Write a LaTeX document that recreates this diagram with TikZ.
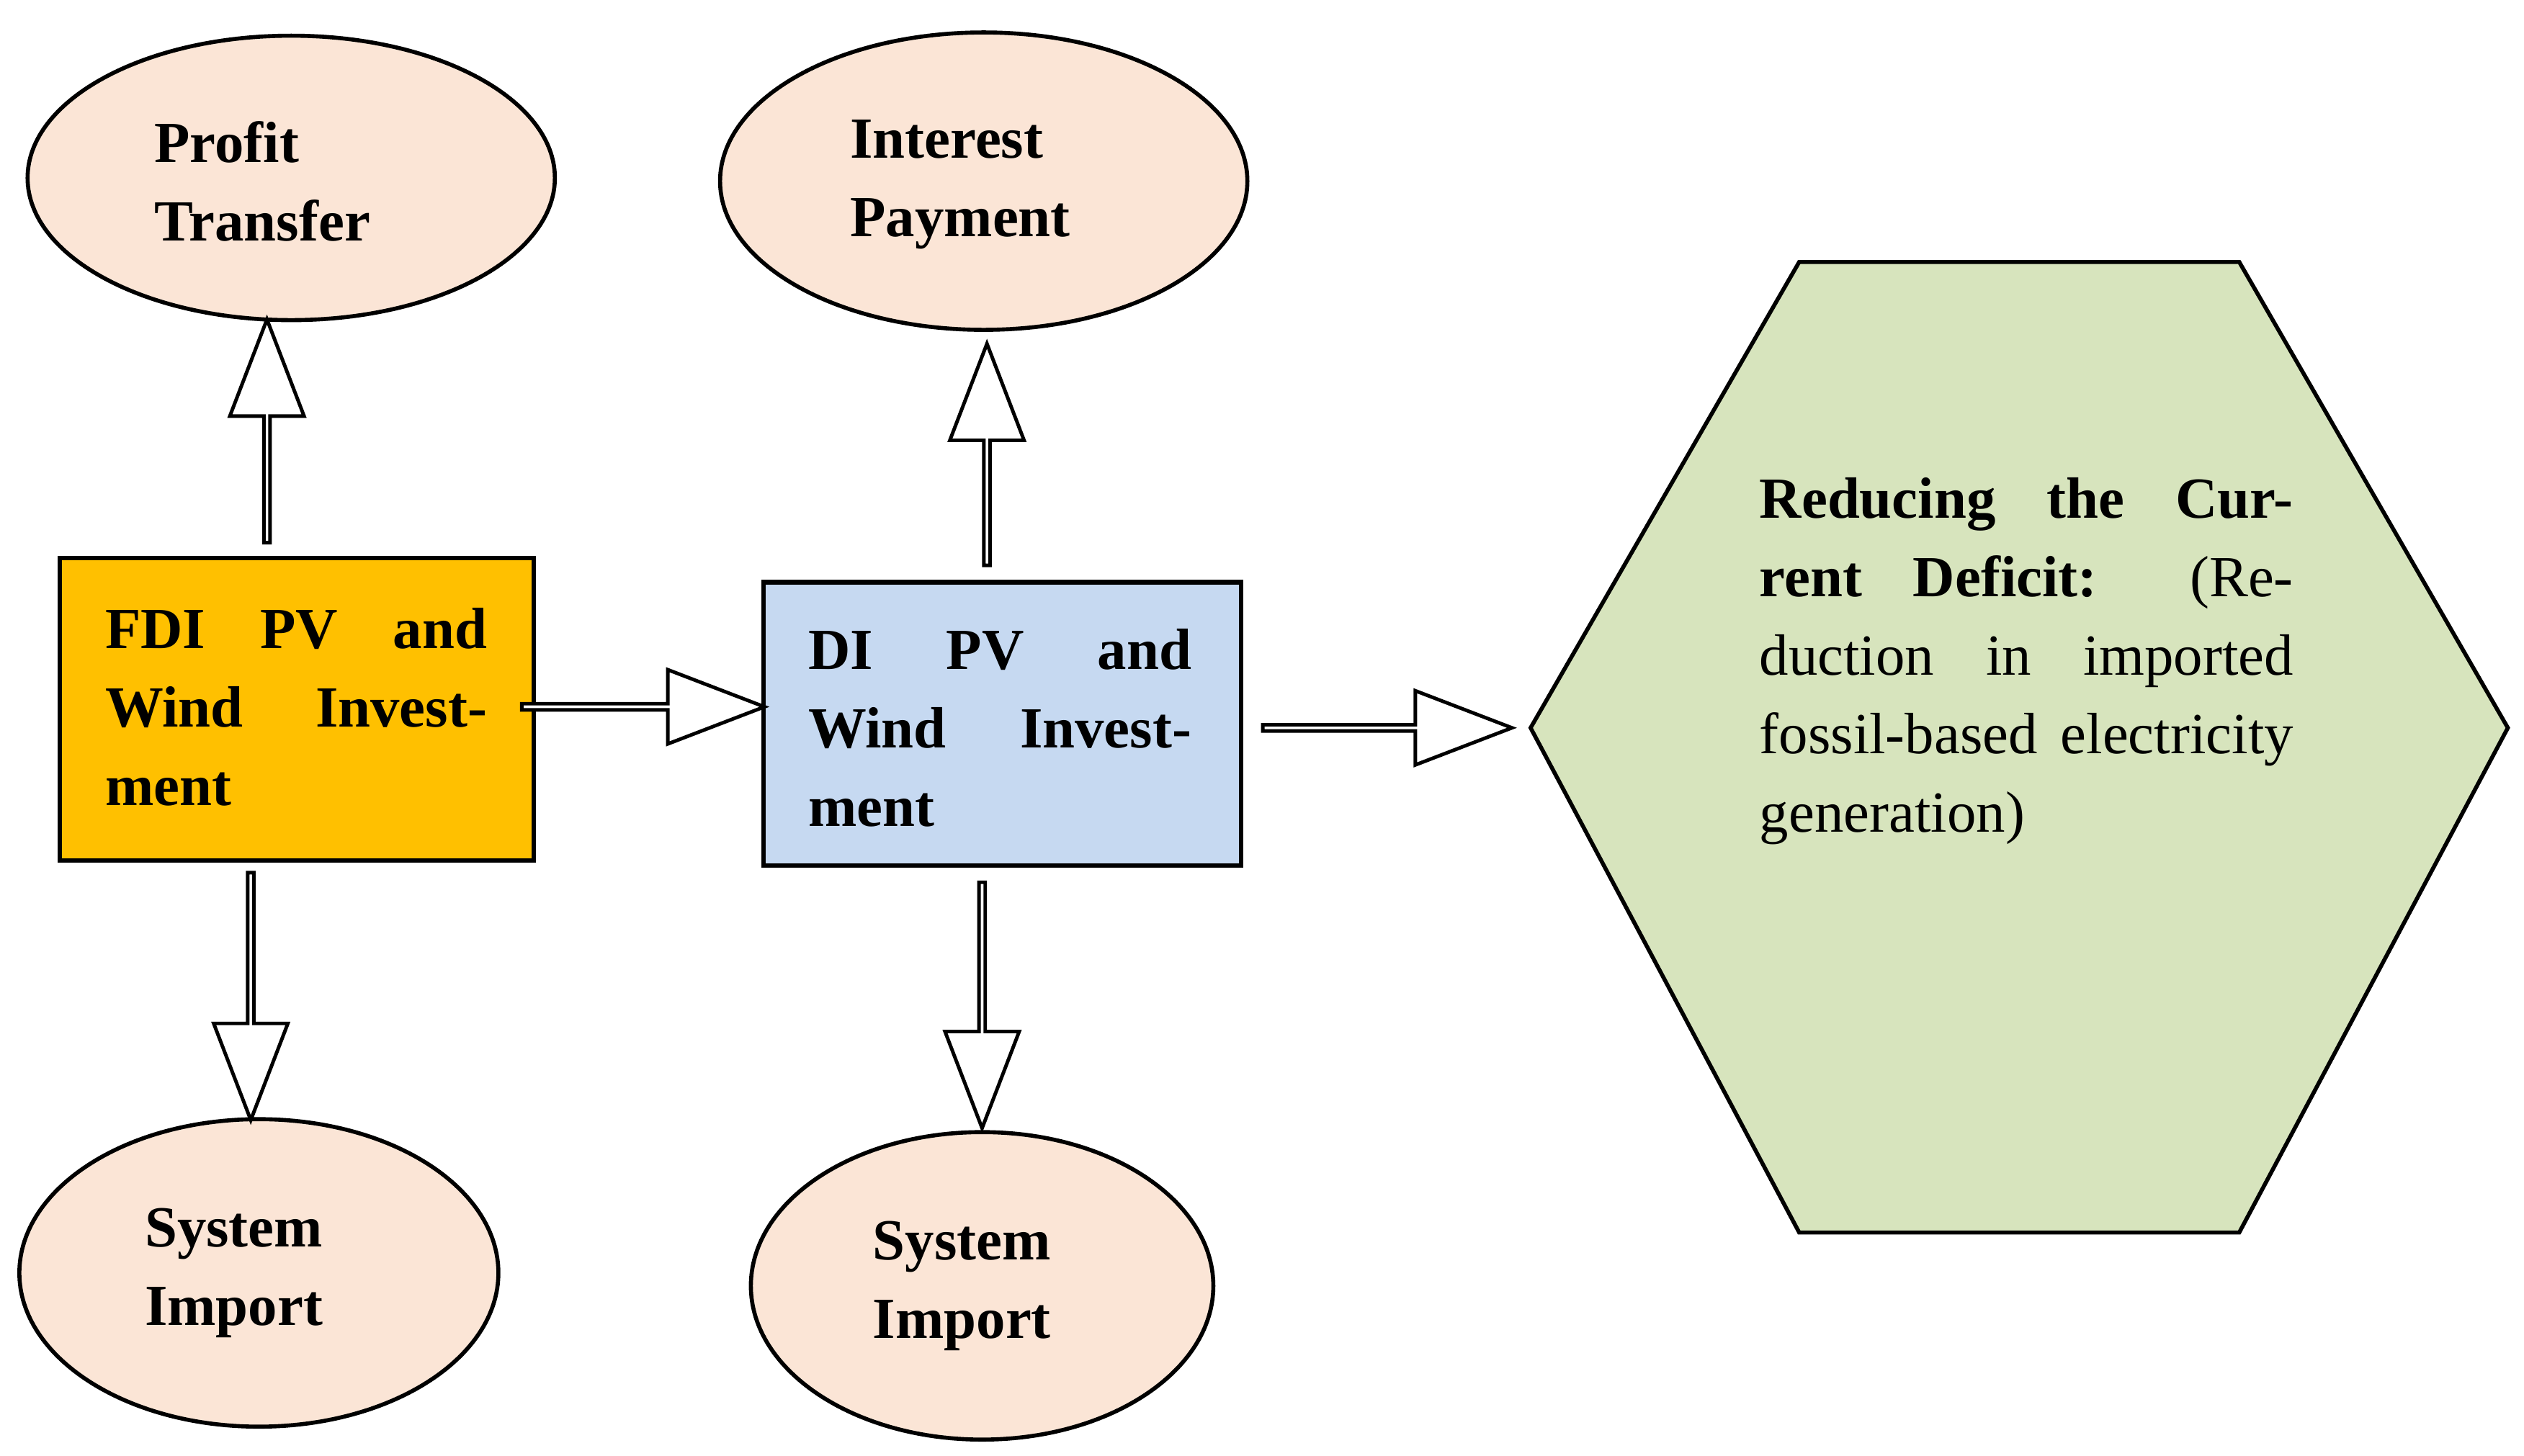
\documentclass[tikz,border=0pt]{standalone}
\usepackage{fontspec}
\setmainfont{Liberation Serif}
\usetikzlibrary{shapes.geometric,shapes.arrows}
\definecolor{peach}{HTML}{FBE5D6}
\definecolor{orng}{HTML}{FFC000}
\definecolor{lblue}{HTML}{C6D9F1}
\definecolor{lgreen}{HTML}{D7E4BD}
\begin{document}
\begin{tikzpicture}[x=0.02246cm,y=-0.02246cm,
  every node/.style={font=\fontsize{23}{31}\selectfont},
  oval/.style={ellipse,draw,line width=1.6pt,fill=peach,inner sep=0pt},
  box/.style={draw,line width=1.8pt,inner sep=0pt},
  lbl/.style={align=left,font=\fontsize{23}{31}\selectfont\bfseries},
  barrow/.style={single arrow,draw,line width=1.4pt,fill=white,minimum width=1.03cm,
     single arrow head extend=0.27cm,single arrow tip angle=42,inner sep=0pt}]
\useasboundingbox (0,0) rectangle (1560,900);
% ellipses
\node[oval,minimum width=7.32cm,minimum height=3.95cm] (pt) at (180,110) {};
\node[lbl,anchor=west] at (90,112) {Profit\\Transfer};
\node[oval,minimum width=7.32cm,minimum height=4.13cm] (ip) at (608,112) {};
\node[lbl,anchor=west] at (520,114) {Interest\\Payment};
\node[oval,minimum width=6.65cm,minimum height=4.27cm] (sl) at (160,787) {};
\node[lbl,anchor=west] at (84,787) {System\\Import};
\node[oval,minimum width=6.42cm,minimum height=4.27cm] (sr) at (607,795) {};
\node[lbl,anchor=west] at (534,795) {System\\Import};
% boxes
\node[box,fill=orng,minimum width=6.58cm,minimum height=4.2cm] (fdi) at (183.5,438.5) {};
\node[lbl,align=justify,text width=5.3cm,anchor=center] at (183,437) {FDI PV and Wind Investment};
\node[box,fill=lblue,minimum width=6.63cm,minimum height=3.93cm] (di) at (619.5,447.5) {};
\node[lbl,align=justify,text width=5.32cm,anchor=center] at (618,450) {DI PV and Wind Investment};
% hexagon
\draw[line width=1.6pt,fill=lgreen] (946,450) -- (1112,162) -- (1384,162) -- (1550,450) -- (1384,762) -- (1112,762) -- cycle;
\coordinate (hex) at (932,450);
\node[align=justify,text width=7.41cm,anchor=north west] (ht) at (1082,290)
 {\textbf{Reducing the Current Deficit:} (Reduction in imported fossil-based electricity generation)};
% arrows
\coordinate (a1s) at (165,338); \coordinate (a1e) at (165,200);
\node[barrow,rotate=90,minimum height=138*0.02246cm] at (165,269) {};
\node[barrow,rotate=90,minimum height=137*0.02246cm] at (610,283.5) {};
\node[barrow,rotate=-90,minimum height=153*0.02246cm] at (155,613.5) {};
\node[barrow,rotate=-90,minimum height=152*0.02246cm] at (607,619) {};
\node[barrow,minimum height=150*0.02246cm] at (395,437) {};
\node[barrow,minimum height=154*0.02246cm] at (855,450) {};
\end{tikzpicture}
\end{document}
